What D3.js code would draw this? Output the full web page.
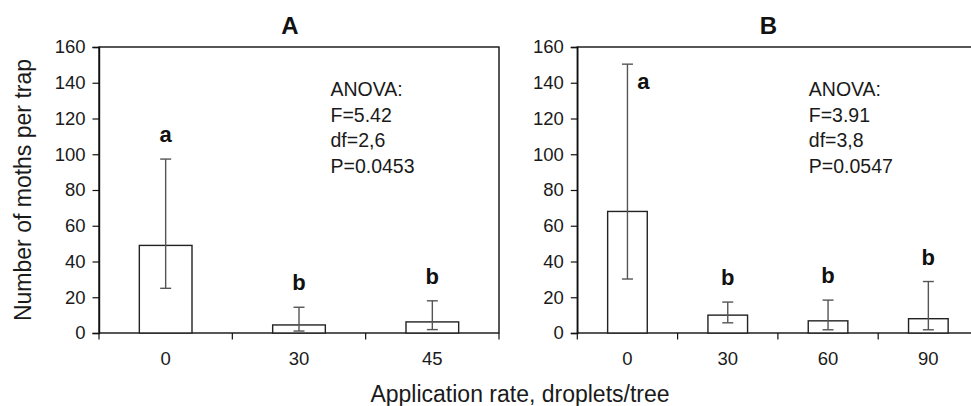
<!DOCTYPE html>
<html>
<head>
<meta charset="utf-8">
<script src="https://cdnjs.cloudflare.com/ajax/libs/d3/7.8.5/d3.min.js"></script>
<style>
  html, body { margin: 0; padding: 0; background: #fff; }
  svg { display: block; font-family: "Liberation Sans", Arial, Helvetica, sans-serif; }
</style>
</head>
<body>
<div id="chart"></div>
<script>
// Panel A: three application rates
const ratesA = ["0", "30", "45"];
const meansA = [49, 4.5, 6.2];
const errLowA = [25, 1.1, 1.9];
const errHighA = [97.3, 14.4, 18];
const lettersA = ["a", "b", "b"];
const anovaA = ["ANOVA:", "F=5.42", "df=2,6", "P=0.0453"];

// Panel B: four application rates
const ratesB = ["0", "30", "60", "90"];
const meansB = [68, 10, 6.8, 8];
const errLowB = [30.2, 5.7, 1.8, 1.8];
const errHighB = [150.4, 17.3, 18.4, 28.8];
const lettersB = ["a", "b", "b", "b"];
const anovaB = ["ANOVA:", "F=3.91", "df=3,8", "P=0.0547"];

const yTicks = [0, 20, 40, 60, 80, 100, 120, 140, 160];

const W = 971, H = 406;
const plotTop = 47, plotBottom = 333;

const svg = d3.select("#chart").append("svg")
  .attr("width", W)
  .attr("height", H);

function drawPanel(opts) {
  const { left, right, title, rates, means, lo, hi, letters, anova } = opts;

  const x = d3.scaleBand()
    .domain(rates)
    .range([left, right])
    .paddingInner(0.605)
    .paddingOuter(0.3025);

  const y = d3.scaleLinear()
    .domain([0, 160])
    .range([plotBottom, plotTop]);

  const g = svg.append("g");

  // frame
  g.append("rect")
    .attr("x", left)
    .attr("y", plotTop)
    .attr("width", right - left)
    .attr("height", plotBottom - plotTop)
    .attr("fill", "none")
    .attr("stroke", "#111")
    .attr("stroke-width", 1.4);

  // y axis
  const yAxis = d3.axisLeft(y)
    .tickValues(yTicks)
    .tickSize(6.5)
    .tickPadding(7);

  const ya = g.append("g")
    .attr("transform", `translate(${left},0)`)
    .call(yAxis);
  ya.select(".domain").attr("stroke", "#111").attr("stroke-width", 1.4);
  ya.selectAll(".tick line").attr("stroke", "#111").attr("stroke-width", 1.2);
  ya.selectAll(".tick text")
    .attr("fill", "#1a1a1a")
    .style("font-size", "18.5px");

  // x ticks at category boundaries
  const step = x.step();
  const bounds = d3.range(rates.length + 1).map(i => left + i * step);
  g.selectAll(".xtick")
    .data(bounds)
    .enter().append("line")
    .attr("class", "xtick")
    .attr("x1", d => d).attr("x2", d => d)
    .attr("y1", plotBottom).attr("y2", plotBottom + 6.5)
    .attr("stroke", "#111")
    .attr("stroke-width", 1.2);

  // x labels
  g.selectAll(".xlabel")
    .data(rates)
    .enter().append("text")
    .attr("class", "xlabel")
    .attr("x", d => x(d) + x.bandwidth() / 2)
    .attr("y", plotBottom + 32)
    .attr("text-anchor", "middle")
    .attr("fill", "#1a1a1a")
    .style("font-size", "18.5px")
    .text(d => d);

  // bars
  g.selectAll(".bar")
    .data(rates)
    .enter().append("rect")
    .attr("class", "bar")
    .attr("x", d => x(d))
    .attr("y", (d, i) => y(means[i]))
    .attr("width", x.bandwidth())
    .attr("height", (d, i) => y(0) - y(means[i]))
    .attr("fill", "#fff")
    .attr("stroke", "#222")
    .attr("stroke-width", 1.4);

  // error bars
  const cx = d => x(d) + x.bandwidth() / 2;
  const capW = 5.5;
  const err = g.selectAll(".err")
    .data(rates)
    .enter().append("g")
    .attr("class", "err")
    .attr("stroke", "#555")
    .attr("stroke-width", 1.4);

  err.append("line")
    .attr("x1", cx).attr("x2", cx)
    .attr("y1", (d, i) => y(lo[i]))
    .attr("y2", (d, i) => y(hi[i]));
  err.append("line")
    .attr("x1", d => cx(d) - capW).attr("x2", d => cx(d) + capW)
    .attr("y1", (d, i) => y(hi[i]))
    .attr("y2", (d, i) => y(hi[i]));
  err.append("line")
    .attr("x1", d => cx(d) - capW).attr("x2", d => cx(d) + capW)
    .attr("y1", (d, i) => y(lo[i]))
    .attr("y2", (d, i) => y(lo[i]));

  // significance letters (put beside the bar if the error bar reaches the top)
  g.selectAll(".letter")
    .data(rates)
    .enter().append("text")
    .attr("class", "letter")
    .attr("x", (d, i) => hi[i] > 140 ? cx(d) + 16 : cx(d))
    .attr("y", (d, i) => hi[i] > 140 ? y(hi[i]) + 25 : y(hi[i]) - 17)
    .attr("text-anchor", "middle")
    .attr("fill", "#111")
    .style("font-size", "22px")
    .style("font-weight", "bold")
    .text((d, i) => letters[i]);

  // ANOVA text
  g.selectAll(".anova")
    .data(anova)
    .enter().append("text")
    .attr("class", "anova")
    .attr("x", left + 231.5)
    .attr("y", (d, i) => plotTop + 49 + i * 25.6)
    .attr("fill", "#1a1a1a")
    .style("font-size", "19.5px")
    .text(d => d);

  // panel title
  g.append("text")
    .attr("x", left + 191)
    .attr("y", 34)
    .attr("text-anchor", "middle")
    .attr("fill", "#111")
    .style("font-size", "24px")
    .style("font-weight", "bold")
    .text(title);
}

drawPanel({ left: 99, right: 499, title: "A", rates: ratesA, means: meansA,
  lo: errLowA, hi: errHighA, letters: lettersA, anova: anovaA });

drawPanel({ left: 577.3, right: 978.5, title: "B", rates: ratesB, means: meansB,
  lo: errLowB, hi: errHighB, letters: lettersB, anova: anovaB });

// axis titles
svg.append("text")
  .attr("transform", "translate(31,190) rotate(-90)")
  .attr("text-anchor", "middle")
  .attr("fill", "#1a1a1a")
  .style("font-size", "23px")
  .text("Number of moths per trap");

svg.append("text")
  .attr("x", 520)
  .attr("y", 402)
  .attr("text-anchor", "middle")
  .attr("fill", "#1a1a1a")
  .style("font-size", "23px")
  .text("Application rate, droplets/tree");
</script>
</body>
</html>
